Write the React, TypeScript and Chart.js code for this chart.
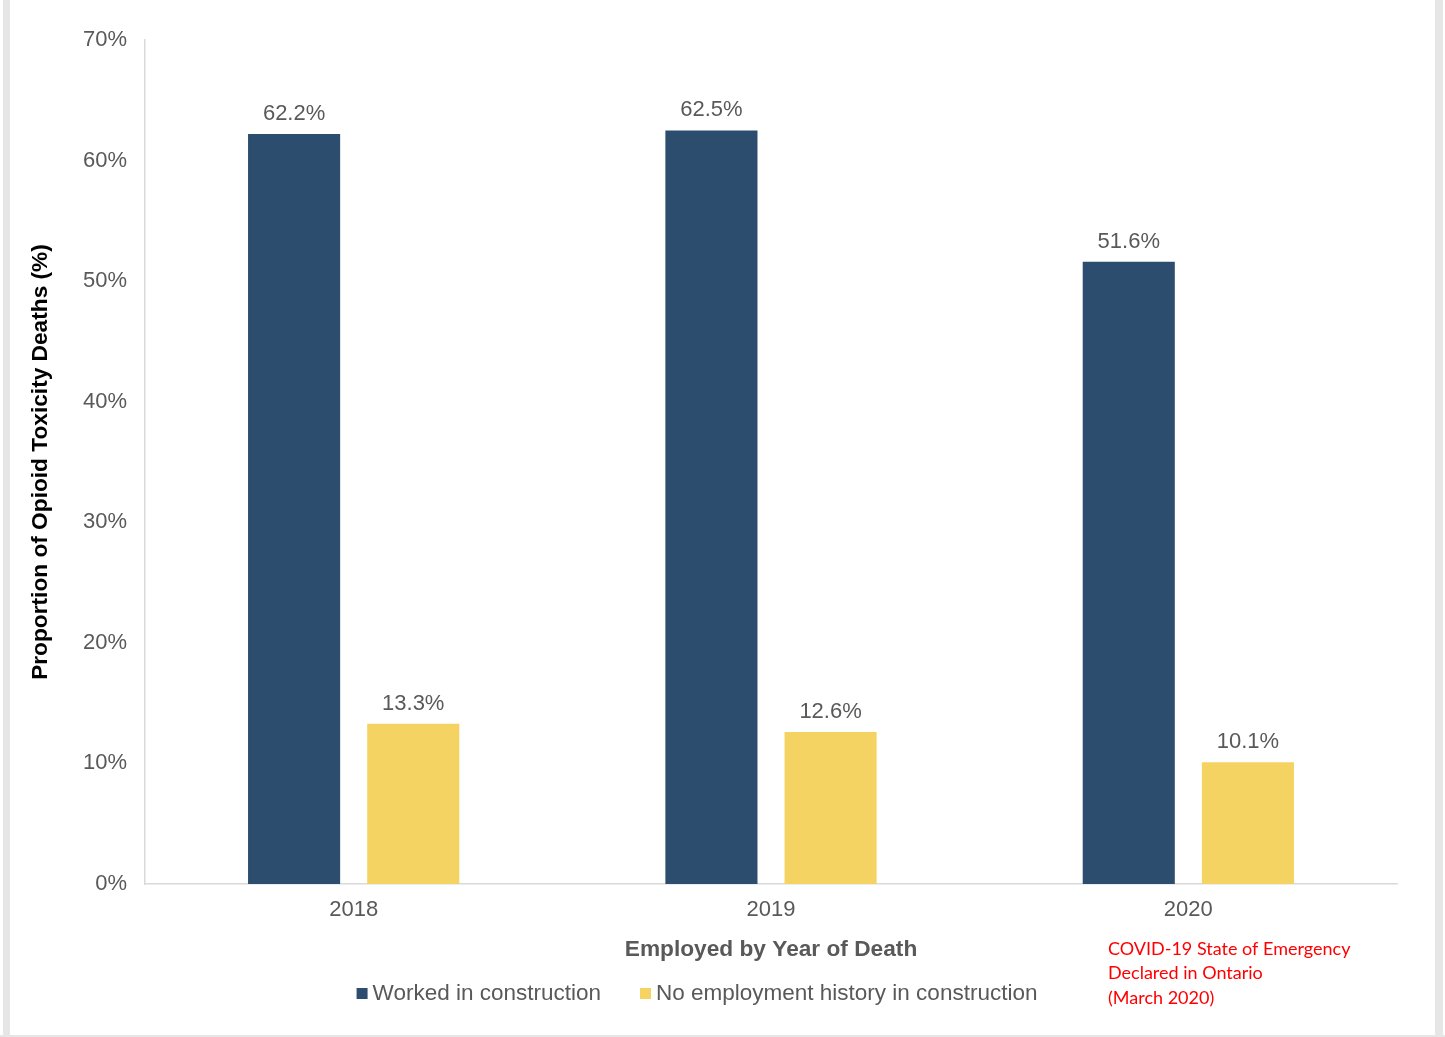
import React, { useEffect, useRef } from "react";
import { Chart, registerables } from "chart.js";

Chart.register(...registerables);

const categories = ["2018", "2019", "2020"];
const workedInConstruction = [62.2, 62.5, 51.6];
const noConstructionHistory = [13.3, 12.6, 10.1];
const seriesNames = ["Worked in construction", "No employment history in construction"];
const yAxisTitle = "Proportion of Opioid Toxicity Deaths (%)";
const xAxisTitle = "Employed by Year of Death";
const annotationLines = ["COVID-19 State of Emergency", "Declared in Ontario", "(March 2020)"];
const yMax = 70;
const yStep = 10;

const DARK = "#2D4D6E";
const YELLOW = "#F5D363";
const GRAY_TEXT = "#595959";
const AXIS = "#D9D9D9";
const FONT = "'Liberation Sans', Arial, sans-serif";

const W = 1445;
const H = 1037;

const overlayPlugin = {
  id: "overlay",
  afterDatasetsDraw(chart: any) {
    const ctx = chart.ctx;
    ctx.save();
    ctx.font = `22px ${FONT}`;
    ctx.fillStyle = GRAY_TEXT;
    ctx.textAlign = "center";
    ctx.textBaseline = "middle";
    chart.data.datasets.forEach((ds: any, i: number) => {
      const meta = chart.getDatasetMeta(i);
      meta.data.forEach((el: any, j: number) => {
        ctx.fillText(ds.data[j].toFixed(1) + "%", el.x, el.y - 20);
      });
    });
    ctx.restore();
  },
  afterDraw(chart: any) {
    const ctx = chart.ctx;
    ctx.save();
    // legend
    ctx.font = `22.5px ${FONT}`;
    ctx.textBaseline = "middle";
    ctx.textAlign = "left";
    const box = 11;
    const gap = 5;
    const itemGap = 39;
    const widths = seriesNames.map((n) => ctx.measureText(n).width);
    const total = widths.reduce((a, w) => a + box + gap + w, 0) + itemGap * (seriesNames.length - 1);
    const centerX = 697;
    const y = 994;
    let x = centerX - total / 2;
    const colors = [DARK, YELLOW];
    seriesNames.forEach((n, i) => {
      ctx.fillStyle = colors[i];
      ctx.fillRect(x, y - 6, box, box);
      x += box + gap;
      ctx.fillStyle = GRAY_TEXT;
      ctx.fillText(n, x, y);
      x += widths[i] + itemGap;
    });
    // annotation
    ctx.fillStyle = "#FF0000";
    ctx.font = `18px Lato, 'Open Sans', sans-serif`;
    annotationLines.forEach((line, i) => {
      ctx.fillText(line, 1108, 949 + i * 24.5);
    });
    ctx.restore();
  },
};

export default function App() {
  const ref = useRef<HTMLCanvasElement | null>(null);
  useEffect(() => {
    if (!ref.current) return;
    const chart = new Chart(ref.current, {
      type: "bar",
      data: {
        labels: categories,
        datasets: [
          {
            label: seriesNames[0],
            data: workedInConstruction,
            backgroundColor: DARK,
            categoryPercentage: 0.571,
            barPercentage: 0.773,
          },
          {
            label: seriesNames[1],
            data: noConstructionHistory,
            backgroundColor: YELLOW,
            categoryPercentage: 0.571,
            barPercentage: 0.773,
          },
        ],
      },
      options: {
        responsive: false,
        animation: false,
        layout: { padding: { top: 40, right: 48, bottom: 73, left: 0 } },
        plugins: {
          legend: { display: false },
          tooltip: { enabled: false },
        },
        scales: {
          x: {
            grid: { display: false, drawTicks: false },
            border: { display: true, color: AXIS, width: 1.5 },
            ticks: {
              color: GRAY_TEXT,
              font: { family: FONT, size: 22 },
              padding: 13,
            },
            title: {
              display: true,
              text: xAxisTitle,
              color: GRAY_TEXT,
              font: { family: FONT, size: 22.7, weight: "bold" },
              padding: { top: 0, bottom: 1 },
            },
            afterFit(scale: any) {
              scale.height = 80;
            },
          },
          y: {
            min: 0,
            max: yMax,
            grid: { display: false, drawTicks: false },
            border: { display: true, color: AXIS, width: 1.5 },
            ticks: {
              stepSize: yStep,
              color: GRAY_TEXT,
              font: { family: FONT, size: 22 },
              padding: 18,
              callback: (v: any) => v + "%",
            },
            title: {
              display: true,
              text: yAxisTitle,
              color: "#000000",
              font: { family: FONT, size: 22.7, weight: "bold" },
              padding: { top: 27, bottom: 0 },
            },
            afterFit(scale: any) {
              scale.width = 145;
            },
          },
        },
      },
      plugins: [overlayPlugin],
    });
    return () => chart.destroy();
  }, []);

  return (
    <div style={{ position: "absolute", left: 0, top: 0, width: W, height: H, background: "#ffffff", overflow: "hidden" }}>
      <div style={{ position: "absolute", left: 3, top: 0, width: 7, height: H, background: "#E6E6E6" }} />
      <div style={{ position: "absolute", left: 1435, top: 0, width: 8, height: H, background: "#E6E6E6" }} />
      <div style={{ position: "absolute", left: 0, top: H - 2, width: W, height: 2, background: "#E6E6E6" }} />
      <canvas ref={ref} width={W} height={H} style={{ position: "absolute", left: 0, top: 0, width: W, height: H }} />
    </div>
  );
}
